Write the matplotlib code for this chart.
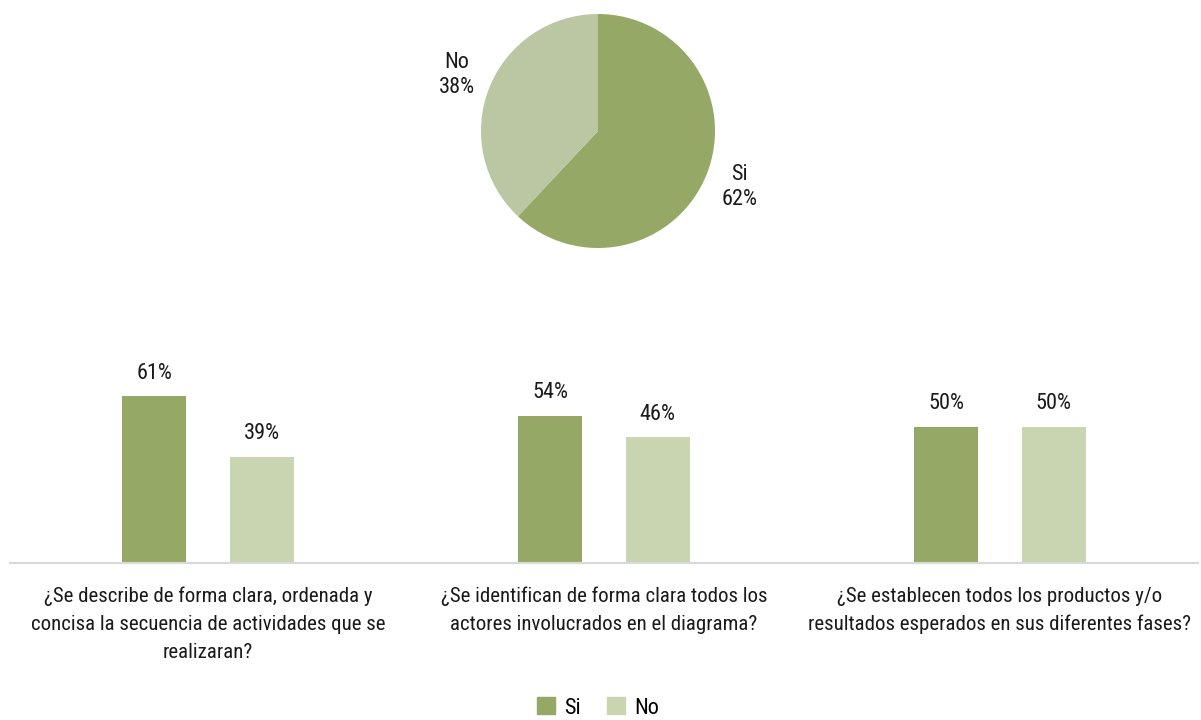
import matplotlib.pyplot as plt
import numpy as np
from matplotlib.patches import Patch
from matplotlib import font_manager as fm

# pick a condensed sans if one is around, otherwise DejaVu
installed = {f.name for f in fm.fontManager.ttflist}
prefs = ["Roboto Condensed", "Fira Sans Condensed", "Open Sans Condensed",
         "Liberation Sans Narrow", "Archivo Narrow", "PT Sans Narrow",
         "Asap Condensed", "IBM Plex Sans Condensed"]
family = [f for f in prefs if f in installed][:1] + ["DejaVu Sans"]
plt.rcParams['font.family'] = family

# pie data
pie_labels = ["Si", "No"]
pie_values = [62, 38]

# bar data
questions = [
    "¿Se describe de forma clara, ordenada y\nconcisa la secuencia de actividades que se\nrealizaran?",
    "¿Se identifican de forma clara todos los\nactores involucrados en el diagrama?",
    "¿Se establecen todos los productos y/o\nresultados esperados en sus diferentes fases?",
]
si_values = [61, 54, 50]
no_values = [39, 46, 50]

si_color = "#95a866"
no_color_pie = "#bbc7a2"
no_color_bar = "#c9d4b1"
txt_color = "#1a1a1a"

fig = plt.figure(figsize=(12.01, 7.2), dpi=100)

# === Pie ===
W, H = 1201, 720
cx, cy, r = 598, 131, 117
ax_pie = fig.add_axes([(cx - r) / W, (H - cy - r) / H, 2 * r / W, 2 * r / H])
wedges, texts = ax_pie.pie(
    pie_values,
    labels=[f"{n}\n{v}%" for n, v in zip(pie_labels, pie_values)],
    colors=[si_color, no_color_pie],
    startangle=90,
    counterclock=False,
    labeldistance=1.3,
    textprops={"fontsize": 16, "color": txt_color, "linespacing": 1.25},
)
for t in texts:
    t.set_horizontalalignment("center")
    t.set_verticalalignment("center")
ax_pie.set_xlim(-1, 1)
ax_pie.set_ylim(-1, 1)
ax_pie.set_aspect("equal")

# === Bars ===
top_px = 340
ax = fig.add_axes([10 / W, (H - 563) / H, 1188 / W, (563 - top_px) / H])
x = np.arange(len(questions))
bw = 0.162
off = 0.136
b1 = ax.bar(x - off, si_values, width=bw, color=si_color, label="Si")
b2 = ax.bar(x + off, no_values, width=bw, color=no_color_bar, label="No")
for bars, vals in [(b1, si_values), (b2, no_values)]:
    for b, v in zip(bars, vals):
        ax.text(b.get_x() + b.get_width() / 2, v + 4.6, f"{v}%",
                ha="center", va="bottom", fontsize=16, color=txt_color)

ax.set_xlim(-0.5, len(questions) - 0.5)
px_per_pct = 2.73
ax.set_ylim(0, (563 - top_px) / px_per_pct)
for s in ["top", "left", "right"]:
    ax.spines[s].set_visible(False)
ax.spines["bottom"].set_color("#d9d9d9")
ax.spines["bottom"].set_linewidth(1.5)
ax.set_yticks([])
ax.set_xticks(x)
ax.set_xticklabels(questions, fontsize=15, color=txt_color, linespacing=1.6)
ax.tick_params(axis="x", length=0, pad=17)

handles = [Patch(color=si_color, label="Si"), Patch(color=no_color_bar, label="No")]
fig.legend(handles=handles, loc="center", bbox_to_anchor=(598 / W, 1 - 708 / H),
           ncol=2, frameon=False, fontsize=16, handlelength=0.8, handleheight=0.8,
           handletextpad=0.4, columnspacing=1.2)

fig.savefig("out.png", dpi=100)
